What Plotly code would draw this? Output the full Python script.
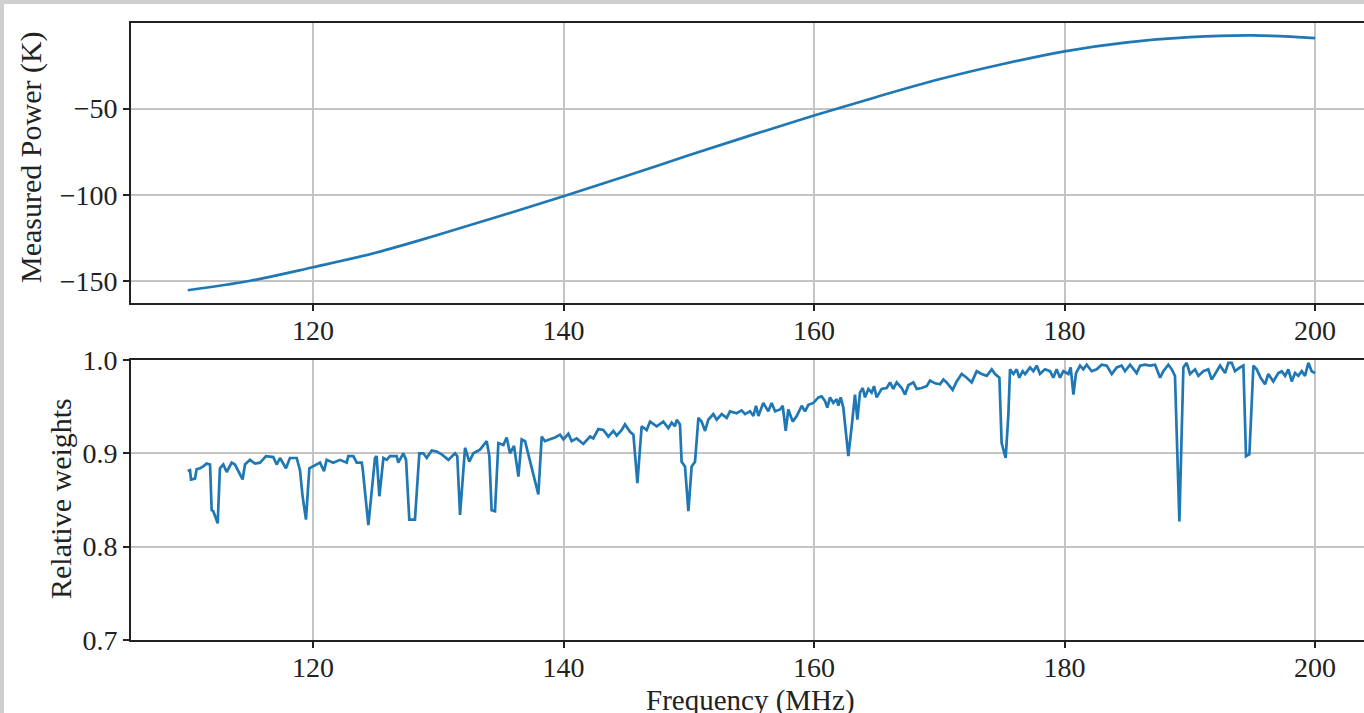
import plotly.graph_objects as go
from plotly.subplots import make_subplots

# ---- Top panel: measured power ----
freq_power = [110, 115, 120, 125, 130, 135, 140, 145, 150, 155, 160, 165, 170,
              175, 180, 185, 190, 195, 200]
power_K = [-155.1, -149.6, -141.8, -133.4, -123.0, -112.0, -100.7, -89.0, -77.0,
           -65.3, -54.0, -43.2, -33.0, -24.3, -16.8, -11.6, -8.6, -7.6, -9.1]

# ---- Bottom panel: relative weights ----
freq_w = [
    110.00, 110.18, 110.26, 110.58, 110.71, 110.98, 111.24, 111.51, 111.78, 111.91,
    112.04, 112.39, 112.57, 112.84, 113.11, 113.51, 113.77, 114.04, 114.38, 114.57,
    114.97, 115.37, 115.77, 116.25, 116.83, 117.10, 117.37, 117.84, 118.16, 118.70,
    118.96, 119.17, 119.44, 119.71, 120.03, 120.56, 120.88, 121.09, 121.62, 122.16,
    122.69, 122.82, 123.22, 123.49, 123.89, 123.97, 124.42, 124.55, 124.95, 125.08,
    125.30, 125.62, 125.88, 126.15, 126.68, 126.81, 127.21, 127.43, 127.69, 128.14,
    128.49, 128.81, 129.08, 129.48, 129.87, 130.27, 130.81, 131.34, 131.52, 131.74,
    132.14, 132.48, 132.80, 133.33, 133.60, 133.87, 134.08, 134.26, 134.53, 134.80,
    135.20, 135.46, 135.73, 136.05, 136.40, 136.66, 136.93, 137.99, 138.26, 138.52,
    138.92, 139.32, 139.72, 139.99, 140.39, 140.65, 141.05, 141.58, 142.12, 142.38,
    142.78, 143.18, 143.58, 143.98, 144.25, 144.65, 144.91, 145.31, 145.58, 145.90,
    146.24, 146.64, 146.91, 147.44, 147.97, 148.37, 148.64, 148.90, 149.04, 149.30,
    149.43, 149.70, 149.97, 150.23, 150.50, 150.77, 151.03, 151.30, 151.56, 151.96,
    152.23, 152.63, 153.03, 153.29, 153.83, 154.22, 154.49, 154.89, 155.16, 155.37,
    155.56, 155.95, 156.35, 156.62, 156.89, 157.29, 157.50, 157.74, 157.95, 158.30,
    158.62, 159.02, 159.28, 159.55, 159.95, 160.35, 160.61, 160.88, 161.06, 161.28,
    161.54, 161.81, 161.94, 162.13, 162.34, 162.74, 163.01, 163.27, 163.46, 163.67,
    163.89, 164.07, 164.34, 164.60, 164.79, 165.00, 165.40, 165.80, 166.07, 166.33,
    166.60, 167.00, 167.27, 167.53, 167.93, 168.20, 168.60, 169.00, 169.26, 169.66,
    170.06, 170.33, 170.59, 171.07, 171.39, 171.79, 172.19, 172.59, 172.99, 173.39,
    173.79, 174.19, 174.45, 174.80, 174.98, 175.30, 175.52, 175.65, 175.92, 176.18,
    176.39, 176.66, 176.85, 177.25, 177.51, 177.78, 178.04, 178.44, 178.84, 179.11,
    179.37, 179.64, 179.91, 180.31, 180.49, 180.71, 180.92, 181.24, 181.50, 181.77,
    182.17, 182.57, 182.97, 183.37, 183.77, 184.17, 184.56, 184.83, 185.23, 185.76,
    186.03, 186.43, 186.83, 187.23, 187.63, 187.89, 188.29, 188.56, 188.82, 189.17,
    189.49, 189.75, 190.02, 190.42, 190.69, 191.08, 191.48, 191.75, 192.15, 192.42,
    192.82, 193.08, 193.35, 193.61, 194.01, 194.28, 194.49, 194.76, 195.08, 195.34,
    195.66, 196.01, 196.27, 196.67, 197.07, 197.34, 197.61, 197.87, 198.14, 198.40,
    198.67, 198.94, 199.20, 199.47, 199.73, 200.00,
]
weights = [
    0.881, 0.882, 0.872, 0.873, 0.883, 0.884, 0.886, 0.889, 0.888, 0.839,
    0.838, 0.825, 0.884, 0.888, 0.880, 0.890, 0.888, 0.881, 0.872, 0.888,
    0.893, 0.889, 0.890, 0.897, 0.896, 0.888, 0.895, 0.884, 0.895, 0.895,
    0.882, 0.854, 0.829, 0.884, 0.886, 0.890, 0.881, 0.893, 0.890, 0.893,
    0.890, 0.897, 0.897, 0.890, 0.890, 0.883, 0.823, 0.839, 0.895, 0.897,
    0.854, 0.895, 0.893, 0.897, 0.897, 0.890, 0.900, 0.893, 0.829, 0.829,
    0.900, 0.900, 0.895, 0.903, 0.902, 0.899, 0.893, 0.900, 0.897, 0.834,
    0.906, 0.891, 0.900, 0.904, 0.908, 0.913, 0.897, 0.839, 0.838, 0.911,
    0.909, 0.917, 0.900, 0.908, 0.875, 0.915, 0.913, 0.856, 0.918, 0.913,
    0.915, 0.917, 0.920, 0.915, 0.921, 0.913, 0.916, 0.910, 0.918, 0.916,
    0.926, 0.925, 0.918, 0.924, 0.919, 0.925, 0.931, 0.923, 0.920, 0.868,
    0.929, 0.925, 0.934, 0.929, 0.934, 0.927, 0.933, 0.929, 0.936, 0.931,
    0.891, 0.886, 0.838, 0.886, 0.891, 0.938, 0.934, 0.924, 0.936, 0.942,
    0.936, 0.942, 0.938, 0.945, 0.943, 0.946, 0.942, 0.945, 0.940, 0.951,
    0.940, 0.954, 0.945, 0.954, 0.945, 0.947, 0.951, 0.924, 0.947, 0.934,
    0.940, 0.951, 0.945, 0.952, 0.954, 0.960, 0.961, 0.956, 0.949, 0.960,
    0.954, 0.958, 0.951, 0.960, 0.949, 0.897, 0.929, 0.963, 0.936, 0.965,
    0.970, 0.960, 0.969, 0.965, 0.972, 0.960, 0.969, 0.970, 0.976, 0.969,
    0.976, 0.970, 0.963, 0.973, 0.976, 0.969, 0.970, 0.972, 0.978, 0.975,
    0.974, 0.979, 0.976, 0.968, 0.977, 0.985, 0.981, 0.976, 0.988, 0.985,
    0.983, 0.990, 0.985, 0.981, 0.911, 0.895, 0.942, 0.990, 0.985, 0.990,
    0.981, 0.988, 0.985, 0.992, 0.988, 0.994, 0.985, 0.990, 0.988, 0.981,
    0.990, 0.981, 0.988, 0.985, 0.992, 0.963, 0.986, 0.994, 0.990, 0.995,
    0.988, 0.990, 0.995, 0.994, 0.985, 0.992, 0.994, 0.988, 0.995, 0.986,
    0.994, 0.995, 0.994, 0.995, 0.981, 0.988, 0.995, 0.990, 0.983, 0.827,
    0.992, 0.997, 0.985, 0.990, 0.983, 0.988, 0.990, 0.979, 0.988, 0.994,
    0.986, 0.997, 0.997, 0.988, 0.992, 0.994, 0.897, 0.899, 0.994, 0.990,
    0.981, 0.974, 0.985, 0.977, 0.986, 0.988, 0.983, 0.990, 0.977, 0.986,
    0.983, 0.988, 0.983, 0.997, 0.988, 0.986,
]

x_ticks = [120, 140, 160, 180, 200]
power_ticks = [-50, -100, -150]
weight_ticks = [0.7, 0.8, 0.9, 1.0]
weight_tick_text = ["0.7", "0.8", "0.9", "1.0"]

BLUE = "#1f77b4"
FONT = "Liberation Serif"
GRID = "#c4c4c4"

fig = make_subplots(rows=2, cols=1, vertical_spacing=0.0)

fig.add_trace(go.Scatter(x=freq_power, y=power_K, mode="lines",
                         line=dict(color=BLUE, width=2.7, shape="spline"),
                         showlegend=False), row=1, col=1)
fig.add_trace(go.Scatter(x=freq_w, y=weights, mode="lines",
                         line=dict(color=BLUE, width=2.7),
                         showlegend=False), row=2, col=1)

W, H = 1364, 713
ml, mt, mb = 131, 23, 73
plot_h = H - mt - mb
panel_h = 280

common_x = dict(range=[105.47, 203.91], tickvals=x_ticks, ticks="outside",
                ticklen=6, tickwidth=1.5, tickcolor="#222", showline=True,
                linecolor="#222", linewidth=1.6, mirror=True, showgrid=True,
                gridcolor=GRID, gridwidth=1.6, zeroline=False,
                ticklabelstandoff=-4,
                tickfont=dict(family=FONT, size=28, color="#222"))
common_y = dict(ticks="outside", ticklen=6, tickwidth=1.5, tickcolor="#222",
                showline=True, linecolor="#222", linewidth=1.6, mirror=False,
                showgrid=True, gridcolor=GRID, gridwidth=1.6, zeroline=False,
                tickfont=dict(family=FONT, size=28, color="#222"))

fig.update_layout(
    width=W, height=H,
    margin=dict(l=ml, r=0, t=mt, b=mb, autoexpand=False),
    paper_bgcolor="#cfcfcf",
    plot_bgcolor="white",
    xaxis=dict(common_x, domain=[0, 1]),
    xaxis2=dict(common_x, domain=[0, 1]),
    yaxis=dict(common_y, domain=[1 - panel_h / plot_h, 1], range=[-162.5, -0.4],
               tickvals=power_ticks),
    yaxis2=dict(common_y, domain=[0, panel_h / plot_h], range=[0.7, 1.0],
                tickvals=weight_ticks, ticktext=weight_tick_text),
)

# white page area inside the grey frame
pw = W - ml
def px_x(px):
    return (px - ml) / pw
def px_y(py):
    return (H - mb - py) / plot_h

fig.add_shape(type="rect", xref="paper", yref="paper",
              x0=px_x(4), x1=px_x(W + 5), y0=px_y(H + 5), y1=px_y(4),
              fillcolor="white", line=dict(width=0), layer="below")

fig.add_annotation(text="Measured Power (K)", xref="paper", yref="paper",
                   x=px_x(31), y=px_y(157), textangle=-90, showarrow=False,
                   xanchor="center", yanchor="middle",
                   font=dict(family=FONT, size=30, color="#222"))
fig.add_annotation(text="Relative weights", xref="paper", yref="paper",
                   x=px_x(60), y=px_y(499), textangle=-90, showarrow=False,
                   xanchor="center", yanchor="middle",
                   font=dict(family=FONT, size=30, color="#222"))
fig.add_annotation(text="Frequency (MHz)", xref="paper", yref="paper",
                   x=px_x(750), y=px_y(700), showarrow=False,
                   xanchor="center", yanchor="middle",
                   font=dict(family=FONT, size=29, color="#222"))

fig.write_html(
    "out.html",
    config={"displayModeBar": False},
    post_script="document.body.style.margin='0';document.body.style.overflow='hidden';",
)
